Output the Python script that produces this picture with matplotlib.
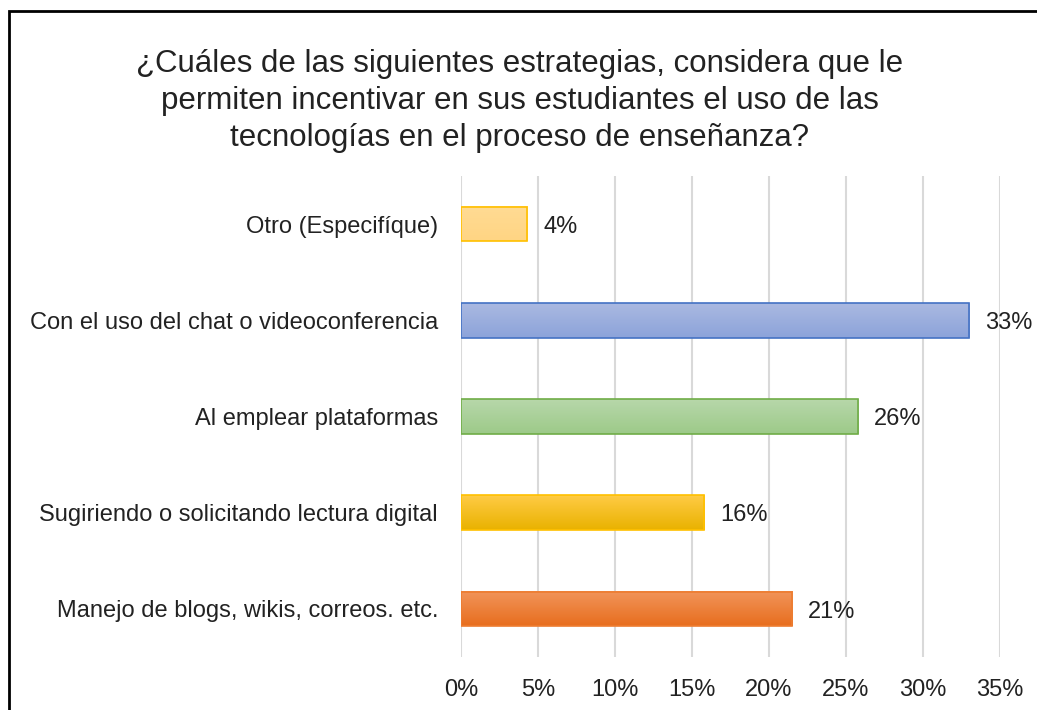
import matplotlib
matplotlib.use("Agg")
import matplotlib.pyplot as plt
import numpy as np
from matplotlib.colors import LinearSegmentedColormap
from matplotlib.patches import Rectangle

plt.rcParams['font.family'] = ['Liberation Sans', 'DejaVu Sans']

# data, bottom to top
categories = ["Manejo de blogs, wikis, correos. etc.",
              "Sugiriendo o solicitando lectura digital",
              "Al emplear plataformas",
              "Con el uso del chat o videoconferencia",
              "Otro (Especifíque)"]
values = [0.215, 0.158, 0.258, 0.33, 0.043]
labels = ["21%", "16%", "26%", "33%", "4%"]
ticks = [0, 0.05, 0.10, 0.15, 0.20, 0.25, 0.30, 0.35]

# gradient (top, bottom) + edge colour per bar
grads = [("#F1945A", "#E86E1E", "#ED7D31"),
         ("#FFCB45", "#E9B200", "#FFC000"),
         ("#B7D7AA", "#9DCA89", "#70AD47"),
         ("#AAB9E1", "#8CA3DA", "#4472C4"),
         ("#FFDB94", "#FFD583", "#FFC000")]

FS = 17

fig = plt.figure(figsize=(10.37, 7.10), dpi=100)
fig.patch.set_facecolor("white")
fig.patches.append(Rectangle((9/1037, -0.05), 1.2, 1 - 11/710 + 0.05,
                             transform=fig.transFigure, fill=False,
                             edgecolor="black", linewidth=2))

ax = fig.add_axes([461/1037, 1 - 657/710, 539/1037, 481/710])
y = np.arange(len(categories))
bars = ax.barh(y, values, height=0.36, facecolor="none", zorder=3)
grad = np.linspace(0, 1, 64).reshape(-1, 1)
for b, (top, bot, edge) in zip(bars, grads):
    x0, y0, w, h = b.get_x(), b.get_y(), b.get_width(), b.get_height()
    cm = LinearSegmentedColormap.from_list("g", [top, bot])
    ax.imshow(grad, cmap=cm, aspect="auto", extent=(x0, x0 + w, y0, y0 + h),
              origin="upper", zorder=2, interpolation="bilinear")
    b.set_edgecolor(edge)
    b.set_linewidth(1.2)

for yi, v, lab in zip(y, values, labels):
    ax.annotate(lab, (v, yi), xytext=(11.5, -2), textcoords="offset points",
                va="center", ha="left", fontsize=FS, color="#222222", zorder=4)

ax.set_xlim(0, 0.35)
ax.set_ylim(-0.5, len(categories) - 0.5)
ax.set_xticks(ticks)
ax.set_xticklabels([f"{int(round(t*100))}%" for t in ticks], fontsize=FS, color="#222222")
ax.set_yticks(y)
ax.set_yticklabels(categories, fontsize=FS, color="#222222")
ax.tick_params(axis="both", length=0)
ax.tick_params(axis="x", pad=16)
ax.tick_params(axis="y", pad=16.5)
ax.grid(axis="x", color="#D9D9D9", linewidth=1.5, zorder=0)
ax.set_axisbelow(True)
for s in ax.spines.values():
    s.set_visible(False)

fig.text(520/1037, 1 - 101/710,
         "¿Cuáles de las siguientes estrategias, considera que le\n"
         "permiten incentivar en sus estudiantes el uso de las\n"
         "tecnologías en el proceso de enseñanza?",
         ha="center", va="center", fontsize=22.5, color="#222222", linespacing=1.3)

fig.savefig("out.png", dpi=100, facecolor="white")
